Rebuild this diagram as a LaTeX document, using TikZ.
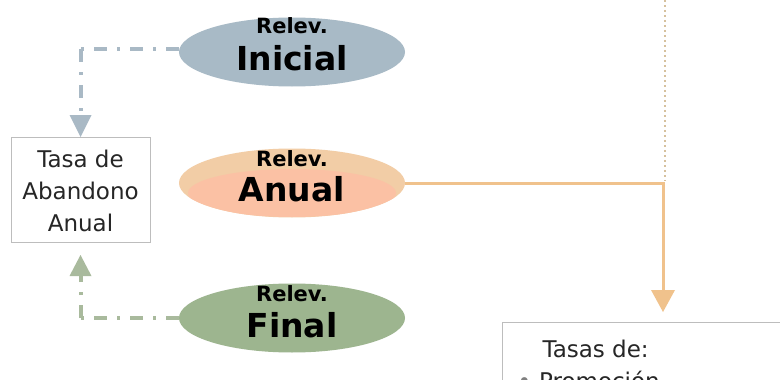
\documentclass[tikz,border=0pt]{standalone}
\usepackage{fontspec}
\setmainfont{DejaVu Sans}
\usetikzlibrary{arrows.meta,shapes.geometric}
\definecolor{inicialc}{HTML}{A8BAC6}
\definecolor{grayline}{HTML}{A9B9C5}
\definecolor{finalc}{HTML}{9DB58F}
\definecolor{greenline}{HTML}{A9BA9D}
\definecolor{tanc}{HTML}{F2CDA6}
\definecolor{salmonc}{HTML}{FBC1A4}
\definecolor{orangeline}{HTML}{F0C28C}
\definecolor{dotc}{HTML}{D6C19E}
\definecolor{boxborder}{HTML}{BDBDBD}
\definecolor{boxtext}{HTML}{262626}
\tikzset{
  relev/.style={ellipse, minimum width=226pt, minimum height=69pt, inner sep=0pt},
  small/.style={anchor=base, font=\bfseries\fontsize{21}{21}\selectfont, text=black},
  big/.style={anchor=base, font=\bfseries\fontsize{33}{33}\selectfont, text=black},
  boxlbl/.style={font=\fontsize{23}{32}\selectfont, text=boxtext},
  dashdot/.style={line width=4pt, dash pattern=on 13pt off 10pt on 3pt off 10pt}
}
\begin{document}
\begin{tikzpicture}[x=1pt,y=-1pt]
\useasboundingbox (0,0) rectangle (780,380);
\fill[white] (0,0) rectangle (780,380);

% dotted vertical line
\coordinate (dtop) at (665,0);
\coordinate (dbot) at (665,181);
\draw[dotc, line width=2.6pt, dash pattern=on 2pt off 3pt] (dtop) -- (dbot);

% ellipses
\node[relev, fill=inicialc] (ini) at (292,52) {};
\node[relev, fill=tanc, path picture={\fill[salmonc] ([yshift=-10pt]path picture bounding box.center) ellipse (104pt and 24pt);}] (anu) at (292,183) {};
\node[relev, fill=finalc] (fin) at (292,318) {};

\node[small] (iniA) at (292,34) {Relev.};
\node[big] (iniB) at (292,70) {Inicial};
\node[small] (anuA) at (292,166) {Relev.};
\node[big] (anuB) at (292,201) {Anual};
\node[small] (finA) at (292,301) {Relev.};
\node[big] (finB) at (292,337) {Final};

% left box
\node[draw=boxborder, line width=1pt, minimum width=139pt, minimum height=105pt, inner sep=0pt] (tasa) at (80.5,189.5) {};
\node[boxlbl, align=center] (tasaT) at (80.5,191) {Tasa de\\Abandono\\Anual};

% bottom right box
\draw[boxborder, line width=1pt] (790,322) -- (502,322) -- (502,400);
\node[anchor=base west, font=\fontsize{23}{23}\selectfont, text=boxtext] (tasas) at (539,357) {Tasas de:};
\node[anchor=base west, font=\fontsize{23}{23}\selectfont, text=boxtext] (promo) at (514,389) {\textcolor{gray}{•}\hspace{8pt}Promoción};
\coordinate (boxtop) at (663,322);

% connectors
\coordinate (c1) at (80.5,49);
\draw[grayline, dashdot] ([yshift=3pt]ini.west) -- (c1);
\draw[grayline, dashdot] (c1) -- (80.5,118);
\fill[grayline] (69.5,115) -- (91.5,115) -- (80.5,137) -- cycle;

\coordinate (c2) at (80.5,318);
\draw[greenline, dashdot] (fin.west) -- (c2);
\draw[greenline, dashdot] (c2) -- (80.5,274);
\fill[greenline] (69.5,276) -- (91.5,276) -- (80.5,255) -- cycle;

\coordinate (c3) at (663,183);
\draw[orangeline, line width=3pt] (anu.east) -- (c3) -- (663,292);
\fill[orangeline] (651,290) -- (675,290) -- (663,312) -- cycle;
\end{tikzpicture}
\end{document}
